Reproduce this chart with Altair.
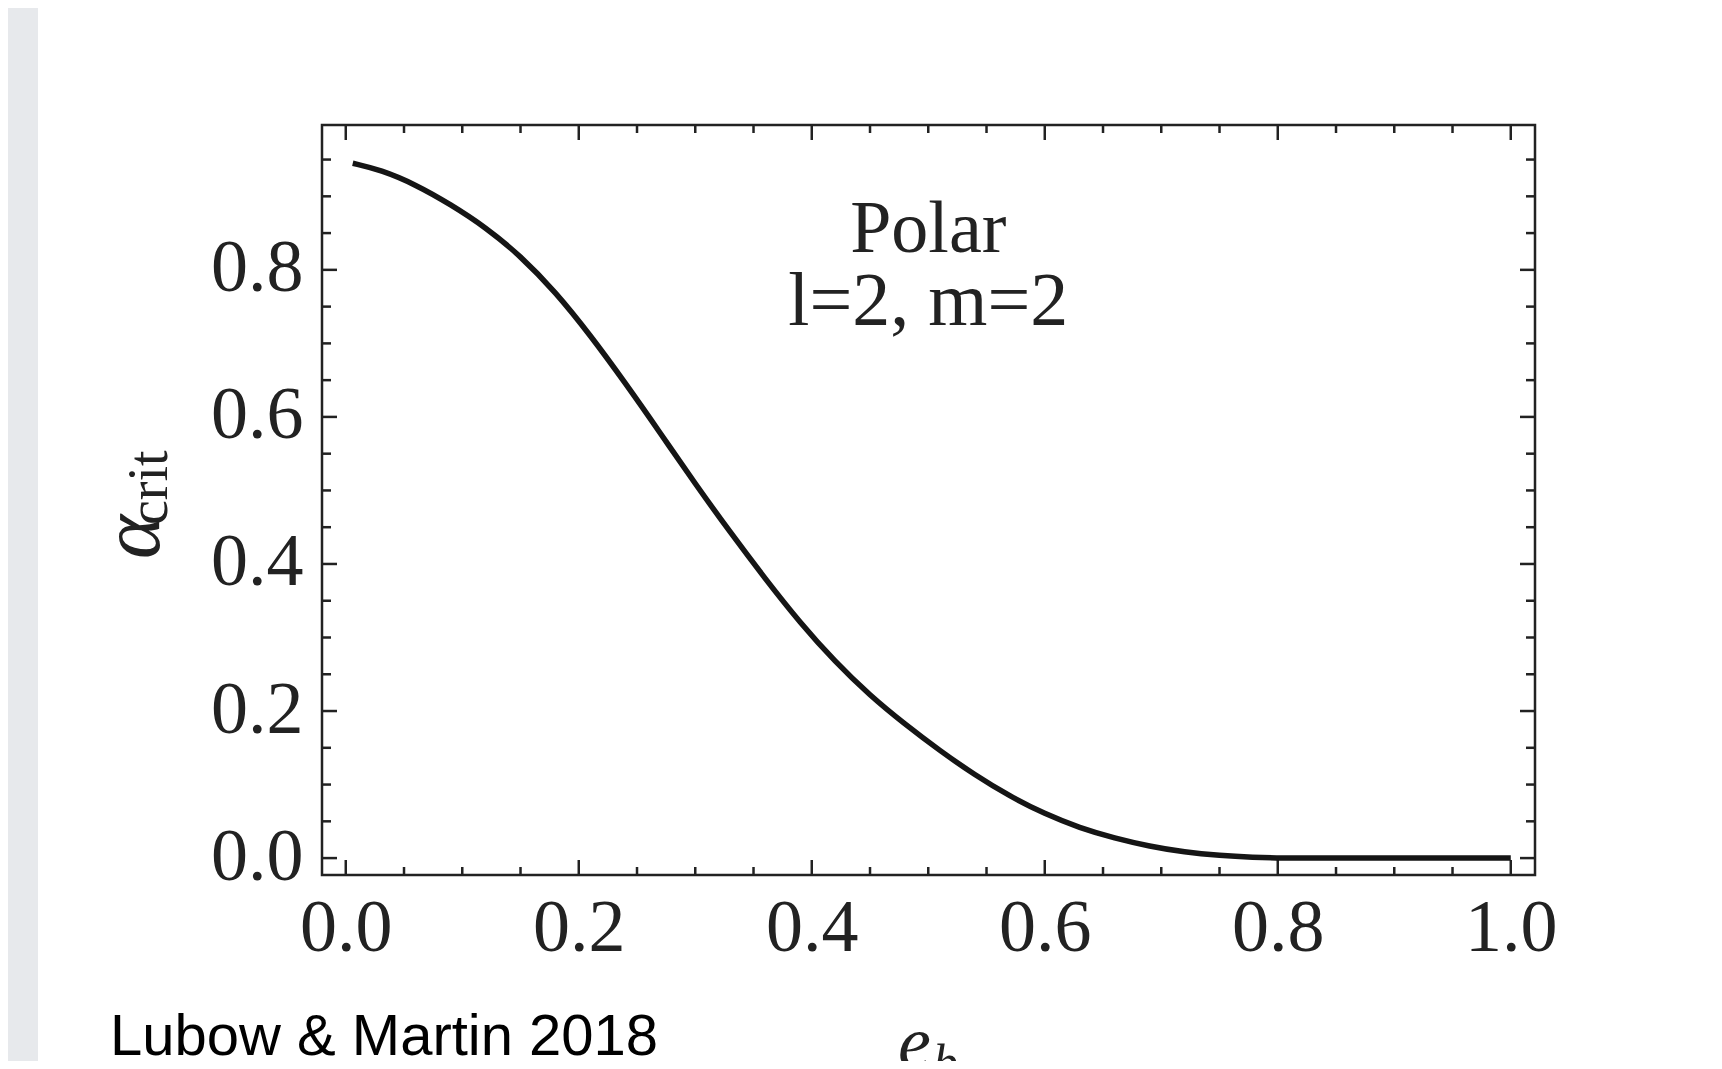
import altair as alt
import pandas as pd

# ---- data ----
e_b = [0.006, 0.03, 0.06, 0.09, 0.12, 0.15, 0.18, 0.21, 0.24, 0.27,
       0.30, 0.33, 0.36, 0.39, 0.42, 0.45, 0.48, 0.51, 0.54, 0.57,
       0.60, 0.63, 0.66, 0.69, 0.72, 0.75, 0.78, 0.80, 0.85, 0.90, 0.95, 1.00]
alpha_crit = [0.945, 0.936, 0.916, 0.889, 0.858, 0.819, 0.770, 0.711, 0.646, 0.578,
              0.509, 0.443, 0.380, 0.320, 0.267, 0.221, 0.182, 0.146, 0.113, 0.084,
              0.060, 0.041, 0.027, 0.016, 0.008, 0.0035, 0.001, 0.0, 0.0, 0.0, 0.0, 0.0]

x_major = [0.0, 0.2, 0.4, 0.6, 0.8, 1.0]
x_minor = [0.05, 0.1, 0.15, 0.25, 0.3, 0.35, 0.45, 0.5, 0.55, 0.65, 0.7, 0.75, 0.85, 0.9, 0.95]
y_major = [0.0, 0.2, 0.4, 0.6, 0.8]
y_minor = [0.05, 0.1, 0.15, 0.25, 0.3, 0.35, 0.45, 0.5, 0.55, 0.65, 0.7, 0.75, 0.85, 0.9, 0.95]

note_title = ["Polar"]
note_modes = ["l=2, m=2"]
note_x = 0.5
note_y_title = 0.824
note_y_modes = 0.725
credit = ["Lubow & Martin 2018"]

W, H = 1213, 750
SERIF = "Liberation Serif"
INK = "#222222"

xscale = alt.Scale(domain=[-0.0204, 1.0208], nice=False, zero=False)
yscale = alt.Scale(domain=[-0.023, 0.997], nice=False, zero=False)

ax_x = alt.Axis(values=x_major, format=".1f", title=None, grid=False, domain=False,
                ticks=False, tickSize=0, labelFont=SERIF, labelFontSize=74,
                labelColor=INK, labelPadding=75, labelBaseline="alphabetic",
                labelFlush=False, labelOverlap=False, zindex=1)
ax_y = alt.Axis(values=y_major, format=".1f", title=None, grid=False, domain=False,
                ticks=False, tickSize=0, labelFont=SERIF, labelFontSize=74,
                labelColor=INK, labelPadding=19, labelBaseline="alphabetic",
                labelOffset=21, labelFlush=False, labelOverlap=False, zindex=1)

def X(field):
    return alt.X(field, type="quantitative", scale=xscale, axis=ax_x)

def Y(field):
    return alt.Y(field, type="quantitative", scale=yscale, axis=ax_y)

curve_df = pd.DataFrame({"e": e_b, "a": alpha_crit})
one = pd.DataFrame({"k": [0]})

# grey slide margin on the left
strip = alt.Chart(one).mark_rect(color="#e7e9ec").encode(
    x=alt.value(-314), x2=alt.value(-284), y=alt.value(-117), y2=alt.value(936)
)

def xticks(vals, length):
    d = pd.DataFrame({"e": vals})
    base = alt.Chart(d).mark_rule(color=INK, strokeWidth=2.5)
    bot = base.encode(x=X("e"), y=alt.value(H), y2=alt.value(H - length))
    top = base.encode(x=X("e"), y=alt.value(0), y2=alt.value(length))
    return [bot, top]

def yticks(vals, length):
    d = pd.DataFrame({"a": vals})
    base = alt.Chart(d).mark_rule(color=INK, strokeWidth=2.5)
    left = base.encode(y=Y("a"), x=alt.value(0), x2=alt.value(length))
    right = base.encode(y=Y("a"), x=alt.value(W), x2=alt.value(W - length))
    return [left, right]

tick_layers = xticks(x_major, 15) + xticks(x_minor, 8) + yticks(y_major, 15) + yticks(y_minor, 9)

curve = alt.Chart(curve_df).mark_line(color="#151515", strokeWidth=5.5, interpolate="basis").encode(
    x=X("e"), y=Y("a")
)

note1 = alt.Chart(pd.DataFrame({"e": [note_x], "a": [note_y_title], "t": note_title})).mark_text(
    font=SERIF, fontSize=74, color=INK, align="center", baseline="alphabetic").encode(
    x=X("e"), y=Y("a"), text="t:N")
note2 = alt.Chart(pd.DataFrame({"e": [note_x], "a": [note_y_modes], "t": note_modes})).mark_text(
    font=SERIF, fontSize=76, color=INK, align="center", baseline="alphabetic").encode(
    x=X("e"), y=Y("a"), text="t:N")

ylab_a = alt.Chart(pd.DataFrame({"t": ["α"]})).mark_text(
    font=SERIF, fontSize=84, fontStyle="italic", color=INK, angle=270,
    align="left", baseline="alphabetic").encode(
    x=alt.value(-163), y=alt.value(434), text="t:N")
ylab_sub = alt.Chart(pd.DataFrame({"t": ["crit"]})).mark_text(
    font=SERIF, fontSize=56, color=INK, angle=270,
    align="left", baseline="alphabetic").encode(
    x=alt.value(-155), y=alt.value(400), text="t:N")

xlab_e = alt.Chart(pd.DataFrame({"t": ["e"]})).mark_text(
    font=SERIF, fontSize=74, fontStyle="italic", color=INK,
    align="left", baseline="alphabetic").encode(
    x=alt.value(576), y=alt.value(942), text="t:N")
xlab_sub = alt.Chart(pd.DataFrame({"t": ["b"]})).mark_text(
    font=SERIF, fontSize=50, fontStyle="italic", color=INK,
    align="left", baseline="alphabetic").encode(
    x=alt.value(611), y=alt.value(954), text="t:N")

credit_txt = alt.Chart(pd.DataFrame({"t": credit})).mark_text(
    font="Liberation Sans", fontSize=58, color="black",
    align="left", baseline="alphabetic").encode(
    x=alt.value(-212), y=alt.value(930), text="t:N")

chart = alt.layer(strip, *tick_layers, curve, note1, note2, ylab_a, ylab_sub, xlab_e, xlab_sub, credit_txt).properties(
    width=W, height=H,
    autosize=alt.AutoSizeParams(type="none"),
    padding={"left": 314, "top": 117, "right": 179, "bottom": 186},
).configure(background="white").configure_view(stroke=INK, strokeWidth=2.5)

chart.save("out.html", embed_options={"renderer": "svg", "actions": False})
